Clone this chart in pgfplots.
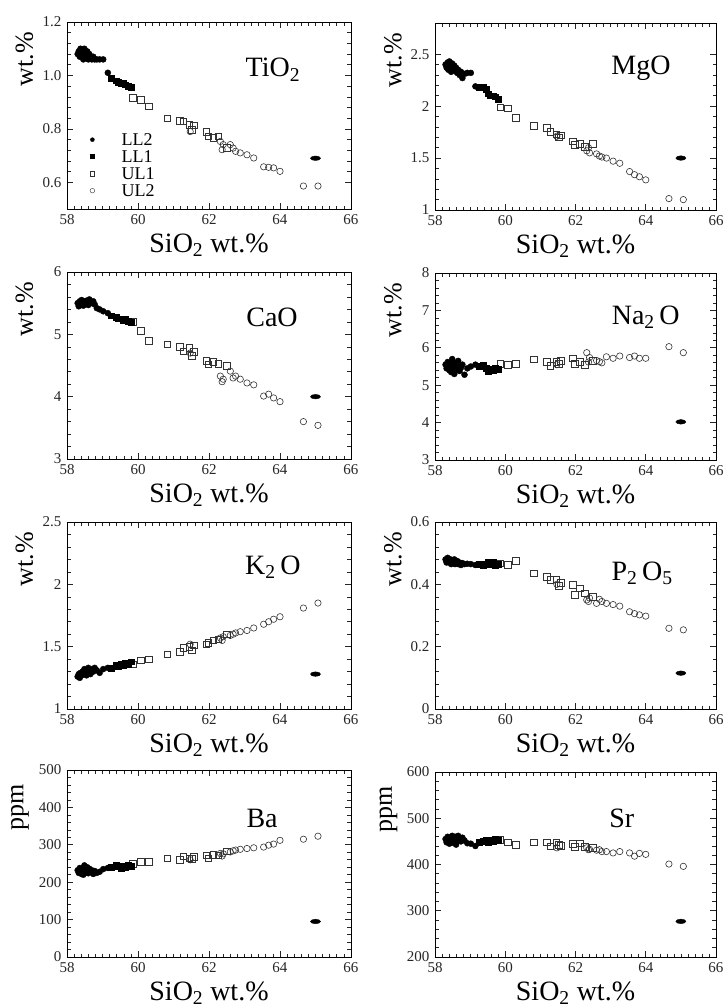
\documentclass[border=0pt]{standalone}
\usepackage{fontspec}
\setmainfont{Liberation Serif}
\usepackage{pgfplots}
\usepackage{pgfplotstable}
\pgfplotsset{compat=1.18}

\pgfplotstableread{
SiO2 TiO2 MgO CaO Na2O K2O P2O5 Ba Sr
58.30 1.08 2.40 5.50 5.55 1.26 0.480 232 455
58.33 1.09 2.37 5.45 5.45 1.28 0.470 225 448
58.36 1.07 2.42 5.53 5.62 1.25 0.485 238 460
58.38 1.10 2.35 5.48 5.50 1.29 0.475 228 450
58.41 1.08 2.43 5.55 5.40 1.27 0.470 222 445
58.44 1.09 2.38 5.50 5.58 1.30 0.480 235 458
58.46 1.06 2.33 5.46 5.35 1.28 0.465 220 452
58.49 1.10 2.41 5.53 5.70 1.32 0.475 245 462
58.52 1.08 2.36 5.49 5.48 1.29 0.470 230 447
58.55 1.07 2.39 5.54 5.30 1.27 0.480 226 455
58.57 1.09 2.34 5.51 5.60 1.31 0.465 240 460
58.60 1.06 2.37 5.47 5.42 1.33 0.470 224 443
58.63 1.08 2.32 5.56 5.52 1.30 0.475 236 450
58.66 1.07 2.35 5.52 5.65 1.28 0.465 228 462
58.70 1.06 2.30 5.50 5.38 1.32 0.470 232 456
58.74 1.07 2.33 5.53 5.47 1.30 0.462 222 450
58.78 1.06 2.27 5.48 5.55 1.33 0.468 230 458
58.84 1.06 2.31 5.42 5.28 1.31 0.465 225 452
58.92 1.06 2.32 5.40 5.45 1.29 0.466 228 446
59.02 1.06 2.32 5.37 5.50 1.32 0.465 235 445
59.15 1.01 2.19 5.34 5.55 1.33 0.462 238 440
}\LLtwo

\pgfplotstableread{
SiO2 TiO2 MgO CaO Na2O K2O P2O5 Ba Sr
59.25 0.990 2.18 5.30 5.50 1.33 0.465 240 448
59.38 0.980 2.18 5.27 5.55 1.35 0.460 245 450
59.45 0.975 2.16 5.25 5.45 1.34 0.465 242 452
59.52 0.970 2.12 5.25 5.38 1.36 0.470 238 448
59.58 0.970 2.10 5.23 5.42 1.35 0.465 244 453
59.65 0.965 2.10 5.24 5.40 1.37 0.470 240 450
59.72 0.960 2.09 5.21 5.45 1.36 0.462 246 455
59.80 0.955 2.07 5.19 5.43 1.38 0.465 243 452
}\LLone

\pgfplotstableread{
SiO2 TiO2 MgO CaO Na2O K2O P2O5 Ba Sr
59.86 0.917 1.99 5.20 5.58 1.36 0.467 250 454
60.08 0.908 1.98 5.06 5.55 1.39 0.462 255 448
60.30 0.884 1.89 4.90 5.58 1.40 0.475 255 443
60.82 0.840 1.81 4.84 5.69 1.44 0.435 264 448
61.18 0.830 1.79 4.80 5.63 1.46 0.425 260 448
61.28 0.828 1.75 4.73 5.52 1.49 0.414 269 439
61.45 0.815 1.73 4.78 5.63 1.50 0.416 264 448
61.58 0.813 1.72 4.72 5.66 1.51 0.404 268 441
61.52 0.797 1.70 4.66 5.58 1.47 0.395 262 443
61.92 0.790 1.66 4.58 5.72 1.52 0.398 272 445
61.98 0.772 1.63 4.52 5.58 1.53 0.366 264 438
62.12 0.766 1.64 4.56 5.63 1.55 0.387 274 446
62.26 0.772 1.61 4.53 5.55 1.56 0.371 272 438
62.50 0.728 1.64 4.50 5.66 1.60 0.360 283 436
}\ULone

\pgfplotstableread{
SiO2 TiO2 MgO CaO Na2O K2O P2O5 Ba Sr
61.47 0.790 1.71 4.70 5.55 1.52 0.400 260 436
62.32 0.753 1.57 4.33 5.87 1.57 0.350 277 436
62.40 0.741 1.55 4.28 5.74 1.58 0.356 276 433
62.60 0.741 1.54 4.41 5.66 1.59 0.339 281 431
62.37 0.722 1.60 4.24 5.62 1.55 0.345 270 432
62.68 0.728 1.52 4.30 5.63 1.60 0.352 284 432
62.75 0.716 1.51 4.33 5.60 1.61 0.345 286 428
62.88 0.710 1.50 4.28 5.76 1.62 0.339 288 428
63.07 0.703 1.47 4.22 5.72 1.63 0.335 290 425
63.26 0.691 1.45 4.19 5.78 1.65 0.330 292 428
63.54 0.658 1.37 4.01 5.74 1.68 0.312 294 425
63.68 0.656 1.34 4.04 5.78 1.70 0.306 299 418
63.82 0.654 1.32 3.98 5.72 1.72 0.302 302 424
64.00 0.641 1.29 3.92 5.72 1.74 0.298 312 422
64.66 0.586 1.11 3.60 6.03 1.81 0.259 315 401
65.07 0.586 1.10 3.54 5.87 1.85 0.254 323 396
}\ULtwo

\pgfplotstableread{
SiO2 TiO2 MgO CaO Na2O K2O P2O5 Ba Sr
65.00 0.690 1.50 4.00 4.02 1.28 0.115 95 277
}\REF

\pgfplotsset{
  panel/.style={
    scale only axis, width=284pt, height=187pt,
    xmin=58, xmax=66, xtick={58,60,...,66}, minor x tick num=9,
    minor y tick num=4,
    tick align=inside, major tick length=6pt, minor tick length=3.5pt,
    major tick style={line width=0.7pt, draw=black!85},
    minor tick style={line width=0.6pt, draw=black!85},
    axis line style={line width=0.8pt},
    ticklabel style={font=\fontsize{15}{15}\selectfont, black!85},
    xticklabel style={yshift=-2pt},
    yticklabel style={xshift=-2pt},
    /pgf/number format/assume math mode=true,
    xlabel={SiO\textsubscript{2} wt.\%},
    xlabel style={font=\fontsize{28}{28}\selectfont, at={(axis description cs:0.5,0)}, anchor=center, yshift=-36pt},
    ylabel={wt.\%},
    ylabel style={font=\fontsize{26}{26}\selectfont, at={(axis description cs:-0.15,0.8)}, anchor=center},
  },
  ll2/.style={only marks, mark=*, mark size=3pt, black, forget plot},
  ll1/.style={only marks, mark=square*, mark size=2.9pt, black, forget plot},
  ul1/.style={only marks, mark=square, mark size=3.3pt, black!80, mark options={line width=0.6pt}, forget plot},
  ul2/.style={only marks, mark=o, mark size=3.2pt, black!80, mark options={line width=0.6pt}, forget plot},
  refpt/.style={only marks, mark=*, mark size=2.4pt, black, mark options={xscale=2.1, yscale=0.95}, forget plot},
}

\newcommand{\panelplots}[1]{%
  \addplot[ul1] table[x=SiO2,y=#1]{\ULone};
  \addplot[ul2] table[x=SiO2,y=#1]{\ULtwo};
  \addplot[ll1] table[x=SiO2,y=#1]{\LLone};
  \addplot[ll2] table[x=SiO2,y=#1]{\LLtwo};
  \addplot[refpt] table[x=SiO2,y=#1]{\REF};
}

\newcommand{\plab}{\fontsize{28}{28}\selectfont}

\begin{document}
\begin{tikzpicture}
\path[use as bounding box] (0pt,0pt) rectangle (728pt,-1007pt);

% TiO2
\begin{axis}[panel, at={(67pt,-22pt)}, anchor=north west,
  ymin=0.5, ymax=1.2, ytick={0.6,0.8,1.0,1.2},
  yticklabel style={/pgf/number format/.cd, fixed, fixed zerofill, precision=1},
  legend cell align=left,
  legend style={draw=none, fill=none, at={(axis description cs:0.07,0.42)}, anchor=north west,
    font=\fontsize{18}{18}\selectfont, nodes={inner sep=1pt, text height=12pt, text depth=0pt},
    row sep=3pt, /tikz/every odd column/.append style={column sep=26pt}}]
\panelplots{TiO2}
\addlegendimage{only marks, mark=*, mark size=2pt, black}
\addlegendentry{LL2}
\addlegendimage{only marks, mark=square*, mark size=2pt, black}
\addlegendentry{LL1}
\addlegendimage{only marks, mark=square, mark size=2.3pt, black!80}
\addlegendentry{UL1}
\addlegendimage{only marks, mark=o, mark size=2.3pt, black!80}
\addlegendentry{UL2}
\node[font=\plab] at (rel axis cs:0.725,0.745) {TiO\textsubscript{2}};
\end{axis}

% MgO
\begin{axis}[panel, at={(435pt,-23pt)}, anchor=north west, width=281pt,
  ymin=1, ymax=2.8, ytick={1,1.5,2,2.5}]
\panelplots{MgO}
\node[font=\plab] at (rel axis cs:0.733,0.76) {MgO};
\end{axis}

% CaO
\begin{axis}[panel, at={(67pt,-272pt)}, anchor=north west,
  ymin=3, ymax=6, ytick={3,4,5,6}]
\panelplots{CaO}
\node[font=\plab] at (rel axis cs:0.722,0.76) {CaO};
\end{axis}

% Na2O
\begin{axis}[panel, at={(435pt,-273pt)}, anchor=north west, width=281pt,
  ymin=3, ymax=8, ytick={3,4,5,6,7,8}]
\panelplots{Na2O}
\node[font=\plab] at (rel axis cs:0.75,0.765) {Na\textsubscript{2}\,O};
\end{axis}

% K2O
\begin{axis}[panel, at={(67pt,-522pt)}, anchor=north west,
  ymin=1, ymax=2.5, ytick={1,1.5,2,2.5}]
\panelplots{K2O}
\node[font=\plab] at (rel axis cs:0.725,0.758) {K\textsubscript{2}\,O};
\end{axis}

% P2O5
\begin{axis}[panel, at={(435pt,-522pt)}, anchor=north west, width=281pt,
  ymin=0, ymax=0.6, ytick={0,0.2,0.4,0.6}]
\panelplots{P2O5}
\node[font=\plab] at (rel axis cs:0.737,0.727) {P\textsubscript{2}\,O\textsubscript{5}};
\end{axis}

% Ba
\begin{axis}[panel, at={(67pt,-770pt)}, anchor=north west,
  ymin=0, ymax=500, ytick={0,100,...,500}, ylabel={ppm},
  ylabel style={at={(axis description cs:-0.165,0.8)}}]
\panelplots{Ba}
\node[font=\plab] at (rel axis cs:0.687,0.743) {Ba};
\end{axis}

% Sr
\begin{axis}[panel, at={(435pt,-772pt)}, anchor=north west, width=281pt, height=185pt,
  ymin=200, ymax=600, ytick={200,300,...,600}, ylabel={ppm},
  ylabel style={at={(axis description cs:-0.165,0.8)}}]
\panelplots{Sr}
\node[font=\plab] at (rel axis cs:0.665,0.75) {Sr};
\end{axis}
\end{tikzpicture}
\end{document}
